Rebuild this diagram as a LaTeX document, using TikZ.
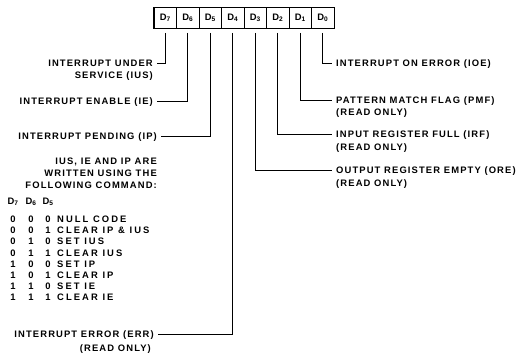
\documentclass[tikz,border=0pt]{standalone}
\usepackage{fontspec}
\newfontfamily\regfont{Liberation Sans}[LetterSpace=12]
\newfontfamily\tblfont{Liberation Sans}[LetterSpace=22]
\usepackage{tikz}
\usetikzlibrary{positioning}

\begin{document}
\begin{tikzpicture}[
    x=1pt, y=-1pt,
    cell/.style={
        draw, line width=0.6pt,
        minimum width=22.5pt, minimum height=21pt, inner sep=0pt,
        font=\regfont\bfseries\fontsize{9.4}{11}\selectfont
    },
    lbl/.style={
        inner xsep=4pt, inner ysep=0pt,
        text height=6.8pt, text depth=0pt,
        font=\regfont\bfseries\fontsize{9.4}{12}\selectfont
    },
    tbl/.style={
        lbl, font=\tblfont\bfseries\fontsize{9.4}{12}\selectfont
    },
    note/.style={
        align=right, inner sep=0pt,
        font=\regfont\bfseries\fontsize{9.4}{12}\selectfont
    },
    wire/.style={
        line width=0.8pt, draw=black
    }
]

\useasboundingbox (0,0) rectangle (520,357);

% register bits
\foreach \b [count=\i from 0] in {7,6,5,4,3,2,1,0}
    \node[cell] (b\b) at ({165.25+22.5*\i}, 18) {D\textsubscript{\b}};
\draw[line width=1pt] (b7.north west) rectangle (b0.south east);

% left side
\node[lbl, anchor=east] (ius) at (157,63) {INTERRUPT UNDER};
\node[lbl, anchor=east] (ius2) at (157,75) {SERVICE (IUS)};
\node[lbl, anchor=east] (ie) at (157,101) {INTERRUPT ENABLE (IE)};
\node[lbl, anchor=east] (ip) at (161,136) {INTERRUPT PENDING (IP)};

% command table
\node[note, anchor=east] (cmdnote) at (157,173) {IUS, IE AND IP ARE\\WRITTEN USING THE\\FOLLOWING COMMAND:};
\node[lbl] (h7) at (13,201) {D\textsubscript{7}};
\node[lbl] (h6) at (31,201) {D\textsubscript{6}};
\node[lbl] (h5) at (48,201) {D\textsubscript{5}};
\foreach \p/\q/\r/\cmd [count=\i from 0] in {
    0/0/0/NULL CODE, 0/0/1/CLEAR IP \& IUS, 0/1/0/SET IUS, 0/1/1/CLEAR IUS,
    1/0/0/SET IP, 1/0/1/CLEAR IP, 1/1/0/SET IE, 1/1/1/CLEAR IE} {
    \node[lbl] (p\i) at (13, {219+11.2*\i}) {\p};
    \node[lbl] (q\i) at (31, {219+11.2*\i}) {\q};
    \node[lbl] (r\i) at (48, {219+11.2*\i}) {\r};
    \node[tbl, anchor=west] (cmd\i) at (53, {219+11.2*\i}) {\cmd};
}

\node[lbl, anchor=east] (err) at (158,334) {INTERRUPT ERROR (ERR)};
\node[lbl, anchor=east] (err2) at (155,348) {(READ ONLY)};

% right side
\node[lbl, anchor=west] (ioe) at (332,63) {INTERRUPT ON ERROR (IOE)};
\node[lbl, anchor=west] (pmf) at (332,100) {PATTERN MATCH FLAG (PMF)};
\node[lbl, anchor=west] (pmf2) at (332,112) {(READ ONLY)};
\node[lbl, anchor=west] (irf) at (332,134) {INPUT REGISTER FULL (IRF)};
\node[lbl, anchor=west] (irf2) at (332,147) {(READ ONLY)};
\node[lbl, anchor=west] (ore) at (332,170) {OUTPUT REGISTER EMPTY (ORE)};
\node[lbl, anchor=west] (ore2) at (332,183) {(READ ONLY)};

% bit lines
\draw[wire] ([yshift=-4pt]b7.south) |- (ius.east);
\draw[wire] ([yshift=-4pt]b6.south) |- (ie.east);
\draw[wire] ([yshift=-4pt]b5.south) |- (ip.east);
\draw[wire] ([yshift=-4pt]b4.south) |- (err.east);
\draw[wire] ([yshift=-4pt]b3.south) |- (ore.west);
\draw[wire] ([yshift=-4pt]b2.south) |- (irf.west);
\draw[wire] ([yshift=-4pt]b1.south) |- (pmf.west);
\draw[wire] ([yshift=-4pt]b0.south) |- (ioe.west);

\end{tikzpicture}
\end{document}
